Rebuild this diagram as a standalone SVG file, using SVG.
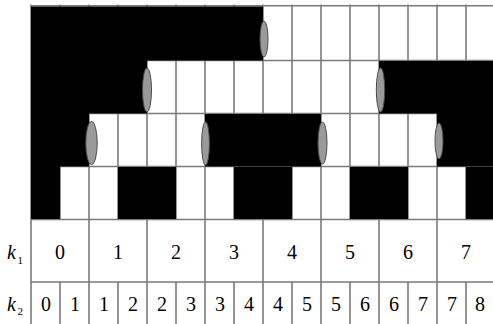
<svg xmlns="http://www.w3.org/2000/svg" width="493" height="324" viewBox="0 0 493 324">
<style>
.g{stroke:#7a7a7a;stroke-width:1.6;fill:none}
.b{fill:#000}
.e{fill:#9a9a9a;stroke:#4d4d4d;stroke-width:1}
text{font-family:'Liberation Serif','DejaVu Serif',serif;font-size:20px;fill:#000}
.t{text-anchor:middle}
.k{font-style:italic}
.s{font-size:11px;font-style:normal}
</style>
<rect width="493" height="324" fill="#fff"/>
<g id="grid">
<path class="g" d="M31,4.5V324M60,4.5V219.5M89,4.5V324M118,4.5V219.5M147,4.5V324M176,4.5V219.5M205,4.5V324M234,4.5V219.5M263,4.5V324M292,4.5V219.5M321,4.5V324M350,4.5V219.5M379,4.5V324M408,4.5V219.5M437,4.5V324M466,4.5V219.5"/>
<path class="g" d="M60,282V324M118,282V324M176,282V324M234,282V324M292,282V324M350,282V324M408,282V324M466,282V324"/>
<path class="g" d="M31,5.8H493M31,60.5H493M31,113.5H493M31,166.5H493M31,219.5H493M31,282H493"/>
</g>
<g id="black">
<rect class="b" x="31" y="6.5" width="232" height="54"/>
<rect class="b" x="31" y="60" width="116" height="53.5"/>
<rect class="b" x="379" y="61" width="114" height="52.5"/>
<rect class="b" x="31" y="113" width="58" height="53.5"/>
<rect class="b" x="205" y="114" width="116" height="52.5"/>
<rect class="b" x="437" y="113" width="56" height="53.5"/>
<rect class="b" x="31" y="166" width="29" height="53"/>
<rect class="b" x="118" y="167" width="58" height="52"/>
<rect class="b" x="234" y="167" width="58" height="52"/>
<rect class="b" x="350" y="167" width="58" height="52"/>
<rect class="b" x="466" y="167" width="27" height="52"/>
</g>
<g id="ellipses">
<ellipse class="e" cx="264" cy="39" rx="4" ry="18"/>
<ellipse class="e" cx="147" cy="90" rx="4.5" ry="22"/>
<ellipse class="e" cx="380.5" cy="90" rx="4.2" ry="22"/>
<ellipse class="e" cx="91.5" cy="143" rx="5.7" ry="21.5"/>
<ellipse class="e" cx="205.5" cy="143.5" rx="3.9" ry="21.5"/>
<ellipse class="e" cx="322.5" cy="143" rx="4.5" ry="21"/>
<ellipse class="e" cx="439" cy="141" rx="4" ry="18"/>
</g>
<g id="k1">
<text class="k" x="7" y="259">k<tspan class="s" dx="1.5" dy="5">1</tspan></text>
<text class="t" x="60" y="259">0</text>
<text class="t" x="118" y="259">1</text>
<text class="t" x="176" y="259">2</text>
<text class="t" x="234" y="259">3</text>
<text class="t" x="292" y="259">4</text>
<text class="t" x="350" y="259">5</text>
<text class="t" x="408" y="259">6</text>
<text class="t" x="466" y="259">7</text>
</g>
<g id="k2">
<text class="k" x="7" y="311">k<tspan class="s" dx="1.5" dy="4">2</tspan></text>
<text class="t" x="46" y="311">0</text>
<text class="t" x="75" y="311">1</text>
<text class="t" x="104" y="311">1</text>
<text class="t" x="133" y="311">2</text>
<text class="t" x="162" y="311">2</text>
<text class="t" x="191" y="311">3</text>
<text class="t" x="220" y="311">3</text>
<text class="t" x="249" y="311">4</text>
<text class="t" x="278" y="311">4</text>
<text class="t" x="307" y="311">5</text>
<text class="t" x="336" y="311">5</text>
<text class="t" x="365" y="311">6</text>
<text class="t" x="394" y="311">6</text>
<text class="t" x="423" y="311">7</text>
<text class="t" x="452" y="311">7</text>
<text class="t" x="480" y="311">8</text>
</g>
</svg>
